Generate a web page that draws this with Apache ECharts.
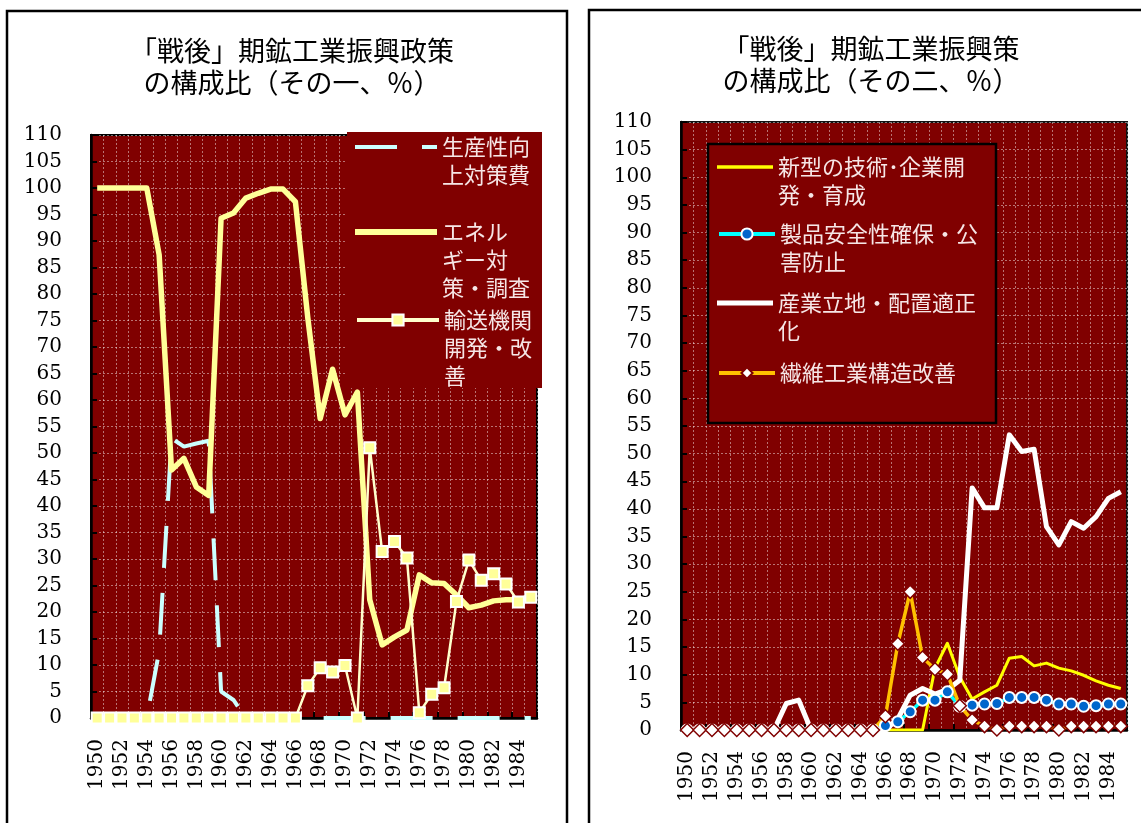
<!DOCTYPE html>
<html>
<head>
<meta charset="utf-8">
<script src="https://cdn.jsdelivr.net/npm/echarts@6/dist/echarts.min.js"></script>
<style>
html,body{margin:0;padding:0;background:#fff;}
#chart{width:1141px;height:823px;}
</style>
</head>
<body>
<div id="chart"></div>
<script>
// ---- data ----
const years = ['1950','1951','1952','1953','1954','1955','1956','1957','1958','1959',
  '1960','1961','1962','1963','1964','1965','1966','1967','1968','1969',
  '1970','1971','1972','1973','1974','1975','1976','1977','1978','1979',
  '1980','1981','1982','1983','1984','1985'];

const titleLeft = '「戦後」期鉱工業振興政策\nの構成比（その一、％）';
const titleRight = '「戦後」期鉱工業振興策\nの構成比（その二、％）';

// chart 1
const productivity = [0,0,0,0,0,12.6,52.8,51.2,51.8,52.3,5.0,3.4,
  0,0,0,0,0,0,0,0,0,0,0,0,0,0,0,0,0,0,0,0,0,0,0,0];
const energy = [100,100,100,100,100,87.4,46.8,49.0,43.6,42.0,
  94.3,95.3,98.1,99.0,99.8,99.8,97.4,75.5,56.5,65.8,
  57.2,61.5,22.3,13.8,15.3,16.6,27.0,25.5,25.4,23.2,
  20.8,21.3,22.1,22.3,22.3,22.9];
const transport = [0,0,0,0,0,0,0,0,0,0,0,0,0,0,0,0,0,
  6.1,9.5,8.7,9.9,0,51.0,31.4,33.3,30.2,1.0,4.5,5.7,22.0,29.8,26.0,27.2,25.3,21.9,22.8];

// chart 2
const newTech = [0,0,0,0,0,0,0,0,0,0,0,0,0,0,0,0,0,0,0,0,
  11.2,15.7,9.6,5.6,6.9,8.1,13.0,13.3,11.6,12.1,11.2,10.7,9.9,8.9,8.1,7.5];
const safety = [0,0,0,0,0,0,0,0,0,0,0,0,0,0,0,0,
  0.8,1.5,3.3,5.4,5.4,6.9,4.3,4.5,4.7,4.8,5.9,5.9,5.9,5.4,4.7,4.7,4.3,4.4,4.7,4.7];
const siting = [0,0,0,0,0,0,0,0,4.8,5.4,0,0,0,0,0,0,0,
  2.0,6.3,7.5,6.5,7.3,9.0,43.8,40.2,40.2,53.4,50.4,50.8,36.8,33.5,37.7,36.5,38.6,41.9,43.1];
const textile = [0,0,0,0,0,0,0,0,0,0,0,0,0,0,0,0,
  2.5,15.6,25.0,13.1,11.0,10.1,4.4,1.8,0.7,0.1,0.7,0.7,0.7,0.7,0.1,0.7,0.7,0.7,0.7,0.7];

const names1 = ['生産性向上対策費','エネルギー対策・調査','輸送機関開発・改善'];
const labels1 = ['\n生産性向\n上対策費','\n\nエネル\nギー対\n策・調査','\n\n輸送機関\n開発・改\n善'];
const names2 = ['新型の技術･企業開発・育成','製品安全性確保・公害防止','産業立地・配置適正化','繊維工業構造改善'];
const labels2 = ['\n新型の技術･企業開\n発・育成','\n製品安全性確保・公\n害防止','\n産業立地・配置適正\n化','繊維工業構造改善'];

// ---- styling ----
const SERIF = 'DejaVu Serif';
const CJK = 'Noto Sans CJK JP';
const BG = '#800000';
const gridLine = {color:'rgba(255,255,255,0.45)', width:1, type:[2,2]};

// legend icons for plain lines (no markers)
const ICON_DASH = 'path://M0,0H42V4H0Z M67,0H82V4H67Z';
const ICON_THICK = 'path://M0,0H82V6H0Z';
const ICON_Y3 = 'path://M0,0H56V3.5H0Z';
const ICON_W5 = 'path://M0,0H56V5H0Z';

function xAxisFor(i){
  return {
    type:'category', data:years, gridIndex:i, boundaryGap:true,
    axisLine:{show:true, onZero:false, lineStyle:{color:'#000', width:2.5}},
    axisTick:{show:true, inside:true, interval:1, length:6, lineStyle:{color:'#000', width:2}},
    axisLabel:{rotate:90, interval:1, margin:21, fontFamily:SERIF, fontSize:20, color:'#000'},
    splitLine:{show:true, interval:0, lineStyle:gridLine}
  };
}
function yAxisFor(i){
  return {
    type:'value', gridIndex:i, min:0, max:110, interval:5,
    axisLine:{show:true, lineStyle:{color:'#000', width:2.5}},
    axisTick:{show:true, inside:true, length:6, lineStyle:{color:'#000', width:2}},
    axisLabel:{margin:29, fontFamily:SERIF, fontSize:20, color:'#000'},
    splitLine:{show:true, lineStyle:gridLine}
  };
}
const legendText = {fontFamily:CJK, fontSize:22, color:'#f6e6e6', lineHeight:28};
function oneLegend(name, label, left, bottom, w, icon){
  const item = {name:name};
  if (icon) item.icon = icon;
  return {
    data:[item], left:left, bottom:bottom, orient:'vertical', padding:0,
    itemWidth:w, itemHeight:14, z:10,
    lineStyle:{width:4},
    formatter:function(){ return label; },
    textStyle:legendText
  };
}

const option = {
  animation:false,
  backgroundColor:'#ffffff',
  title:[
    {text:titleLeft, left:287, top:30, textAlign:'center',
     textStyle:{fontFamily:CJK, fontSize:27, fontWeight:'normal', color:'#000', lineHeight:32}},
    {text:titleRight, left:866, top:28, textAlign:'center',
     textStyle:{fontFamily:CJK, fontSize:27, fontWeight:'normal', color:'#000', lineHeight:32}}
  ],
  grid:[
    {left:91, top:135, width:446, height:583, show:true, backgroundColor:BG, borderColor:'#000', borderWidth:2},
    {left:681, top:122, width:446, height:608, show:true, backgroundColor:BG, borderColor:'#111', borderWidth:2}
  ],
  xAxis:[xAxisFor(0), xAxisFor(1)],
  yAxis:[yAxisFor(0), yAxisFor(1)],
  legend:[
    oneLegend(names1[0], labels1[0], 355, 634, 82, ICON_DASH),
    oneLegend(names1[1], labels1[1], 355, 521, 82, ICON_THICK),
    oneLegend(names1[2], labels1[2], 355, 433, 82, null),
    oneLegend(names2[0], labels2[0], 717, 614, 56, ICON_Y3),
    oneLegend(names2[1], labels2[1], 717, 547, 56, null),
    oneLegend(names2[2], labels2[2], 717, 478, 56, ICON_W5),
    oneLegend(names2[3], labels2[3], 717, 436, 56, null)
  ],
  graphic:[
    {type:'rect', z:1, shape:{x:7, y:11, width:560, height:840}, style:{fill:'none', stroke:'#000', lineWidth:2.5}},
    {type:'rect', z:1, shape:{x:589, y:10, width:580, height:840}, style:{fill:'none', stroke:'#000', lineWidth:2.5}},
    {type:'rect', z:5, shape:{x:347, y:132, width:195, height:256}, style:{fill:BG}},
    {type:'rect', z:5, shape:{x:708, y:144, width:288, height:279}, style:{fill:BG, stroke:'#000', lineWidth:2.5}}
  ],
  series:[
    {name:names1[0], type:'line', xAxisIndex:0, yAxisIndex:0, data:productivity,
     symbol:'none', lineStyle:{color:'#ccffff', width:4, type:[42,25]}, itemStyle:{color:'#ccffff'}},
    {name:names1[1], type:'line', xAxisIndex:0, yAxisIndex:0, data:energy,
     symbol:'none', lineStyle:{color:'#ffff99', width:5.5, join:'round'}, itemStyle:{color:'#ffff99'}},
    {name:names1[2], type:'line', xAxisIndex:0, yAxisIndex:0, data:transport,
     symbol:'rect', symbolSize:11, showAllSymbol:true,
     lineStyle:{color:'#ffffcc', width:2.5}, itemStyle:{color:'#ffff99', borderColor:'#ffffff', borderWidth:2}},

    {name:names2[0], type:'line', xAxisIndex:1, yAxisIndex:1, data:newTech,
     symbol:'none', lineStyle:{color:'#ffff00', width:3, join:'round'}, itemStyle:{color:'#ffff00'}},
    {name:names2[1], type:'line', xAxisIndex:1, yAxisIndex:1, data:safety,
     symbol:'circle', symbolSize:11, showAllSymbol:true,
     lineStyle:{color:'#00ffff', width:3.5}, itemStyle:{color:'#0066cc', borderColor:'#ffffff', borderWidth:2}},
    {name:names2[2], type:'line', xAxisIndex:1, yAxisIndex:1, data:siting,
     symbol:'none', lineStyle:{color:'#ffffff', width:5, join:'round'}, itemStyle:{color:'#ffffff'}},
    {name:names2[3], type:'line', xAxisIndex:1, yAxisIndex:1, data:textile,
     symbol:'diamond', symbolSize:13, showAllSymbol:true,
     lineStyle:{color:'#ffc000', width:3.5}, itemStyle:{color:'#ffffff', borderColor:'#800000', borderWidth:1.5}}
  ]
};

const chart = echarts.init(document.getElementById('chart'), null, {renderer:'canvas'});
chart.setOption(option);
</script>
</body>
</html>
